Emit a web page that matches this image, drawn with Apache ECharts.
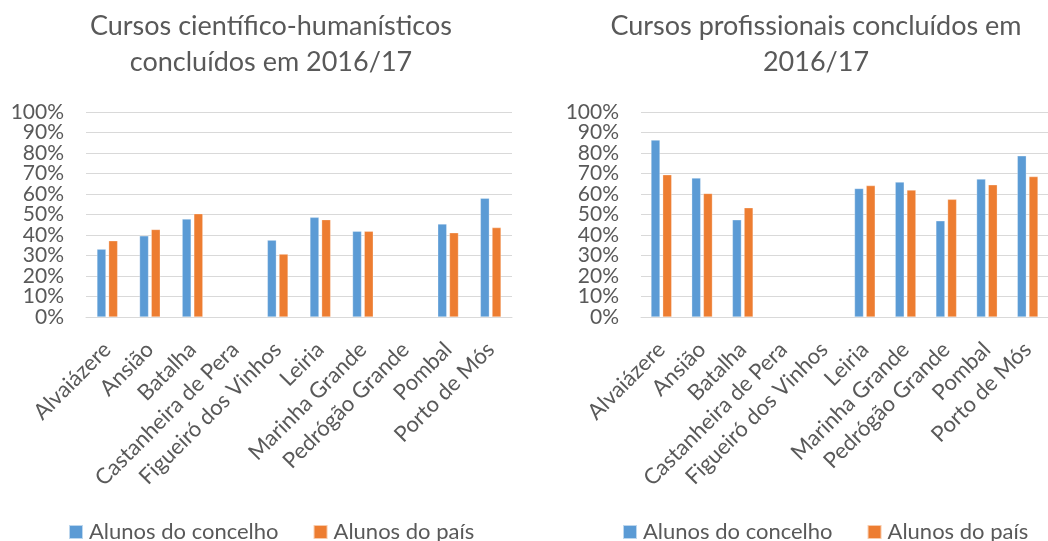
<!DOCTYPE html>
<html>
<head>
<meta charset="utf-8">
<script src="https://cdn.jsdelivr.net/npm/echarts@6/dist/echarts.min.js"></script>
<style>
  html, body { margin: 0; padding: 0; background: #fff; }
  #chart { width: 1048px; height: 541px; }
</style>
</head>
<body>
<div id="chart"></div>
<script>
  // municípios
  var categories = ['Alvaiázere', 'Ansião', 'Batalha', 'Castanheira de Pera', 'Figueiró dos Vinhos',
    'Leiria', 'Marinha Grande', 'Pedrógão Grande', 'Pombal', 'Porto de Mós']
  var seriesNames = ['Alunos do concelho', 'Alunos do país']

  // cursos científico-humanísticos (%)
  var chConcelho = [33.1, 39.6, 47.8, null, 37.5, 48.6, 41.8, null, 45.4, 57.9]
  var chPais = [37.2, 42.7, 50.4, null, 30.7, 47.5, 41.8, null, 41.1, 43.6]

  // cursos profissionais (%)
  var prConcelho = [86.3, 67.8, 47.4, null, null, 62.7, 65.8, 46.9, 67.3, 78.6]
  var prPais = [69.4, 60.3, 53.3, null, null, 64.1, 61.9, 57.4, 64.5, 68.5]

  var titles = ['Cursos científico-humanísticos\nconcluídos em 2016/17', 'Cursos profissionais concluídos em\n2016/17']

  var textColor = '#595959'
  var fontFamily = 'Lato, "Open Sans", sans-serif'
  var colors = ['#5B9BD5', '#ED7D31']

  var dom = echarts.init(document.getElementById('chart'))

  function xAxis(idx) {
    return {
      type: 'category',
      gridIndex: idx,
      data: categories,
      axisTick: { show: false },
      axisLine: { lineStyle: { color: '#d9d9d9', width: 1 } },
      axisLabel: { rotate: 45, interval: 0, color: textColor, fontSize: 22, fontFamily: fontFamily, margin: 29 }
    }
  }

  /*
  * os rótulos do eixo y ficam muito juntos e o echarts esconde alguns,
  * por isso são dois eixos iguais: um com os pares (0, 20...) e outro com os ímpares
  * */
  function yAxis(idx, odd) {
    return {
      type: 'value',
      gridIndex: idx,
      position: 'left',
      min: 0,
      max: 100,
      interval: 10,
      axisLabel: {
        formatter: function (v) {
          return ((v / 10) % 2 === 1) === odd ? v + '%' : ''
        },
        color: textColor, fontSize: 21, fontFamily: fontFamily, margin: 22,
        showMinLabel: true, showMaxLabel: true
      },
      splitLine: { show: !odd, lineStyle: { color: '#d9d9d9', width: 1 } },
      axisLine: { show: false },
      axisTick: { show: false }
    }
  }

  function bar(name, data, idx, color) {
    return {
      name: name,
      type: 'bar',
      xAxisIndex: idx,
      yAxisIndex: idx * 2,
      data: data,
      barWidth: 9,
      barGap: '30%',
      itemStyle: { color: color, borderColor: 'rgba(255,255,255,0.6)', borderWidth: 0.5 }
    }
  }

  function legend(left) {
    return {
      data: seriesNames,
      left: left,
      top: 516,
      icon: 'rect',
      itemWidth: 14,
      itemHeight: 14,
      itemGap: 34,
      textStyle: { color: textColor, fontSize: 22, fontFamily: fontFamily, lineHeight: 20, padding: [0, 0, 0, 1] }
    }
  }

  var option = {
    animation: false,
    color: colors,
    title: [
      {
        text: titles[0], left: 266, top: 3, textAlign: 'center',
        textStyle: { color: textColor, fontSize: 27, fontWeight: 'normal', fontFamily: fontFamily, lineHeight: 36 }
      },
      {
        text: titles[1], left: 811, top: 3, textAlign: 'center',
        textStyle: { color: textColor, fontSize: 27, fontWeight: 'normal', fontFamily: fontFamily, lineHeight: 36 }
      }
    ],
    legend: [legend(63), legend(617)],
    grid: [
      { left: 86, right: 536, top: 112, bottom: 224 },
      { left: 641, right: -10, top: 112, bottom: 224 }
    ],
    xAxis: [xAxis(0), xAxis(1)],
    yAxis: [yAxis(0, false), yAxis(0, true), yAxis(1, false), yAxis(1, true)],
    series: [
      bar(seriesNames[0], chConcelho, 0, colors[0]),
      bar(seriesNames[1], chPais, 0, colors[1]),
      bar(seriesNames[0], prConcelho, 1, colors[0]),
      bar(seriesNames[1], prPais, 1, colors[1])
    ]
  }

  dom.setOption(option)
  window.addEventListener('resize', function () {
    dom.resize()
  })
</script>
</body>
</html>
